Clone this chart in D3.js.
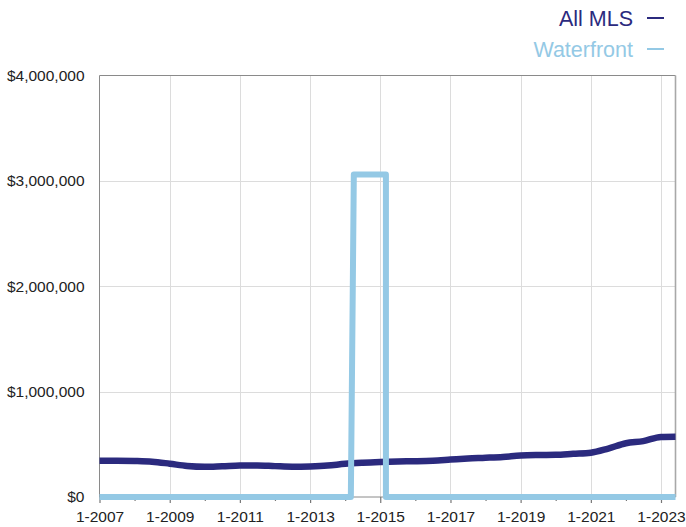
<!DOCTYPE html>
<html>
<head>
<meta charset="utf-8">
<script src="https://cdn.jsdelivr.net/npm/d3@7"></script>
<style>
  html, body { margin: 0; padding: 0; background: #fff; }
  svg { display: block; font-family: "Liberation Sans", Arial, Helvetica, sans-serif; }
</style>
</head>
<body>
<svg id="chart" width="686" height="527"></svg>
<script>
// ---- data ----
const seriesNames = ["All MLS", "Waterfront"];
const allMlsDates = ["2007-01","2007-07","2008-01","2008-07","2009-01","2009-07","2010-01","2010-07",
  "2011-01","2011-07","2012-01","2012-07","2013-01","2013-07","2014-01","2014-07","2015-01","2015-07",
  "2016-01","2016-07","2017-01","2017-07","2018-01","2018-07","2019-01","2019-07","2020-01","2020-07",
  "2021-01","2021-07","2022-01","2022-07","2023-01","2023-06"];
const allMlsValues = [345000,345000,342000,335000,316000,295000,287000,292000,
  298000,300000,293000,287000,290000,298000,315000,325000,332000,337000,
  340000,345000,355000,365000,372000,380000,393000,398000,400000,410000,
  420000,460000,510000,530000,570000,572000];
const waterfrontDates = ["2007-01","2014-03","2014-04","2015-03","2015-03","2023-06"];
const waterfrontValues = [0,0,3060000,3060000,0,0];
const yTicks = [0,1000000,2000000,3000000,4000000];
const xTickLabels = ["1-2007","1-2009","1-2011","1-2013","1-2015","1-2017","1-2019","1-2021","1-2023"];

(function () {
// ---- layout ----
const svg = d3.select("#chart");
const pl = 99.5, pr = 675.5, pt = 75.5, pb = 497;
const parse = d3.timeParse("%Y-%m");
const x = d3.scaleTime().domain([parse("2007-01"), parse("2023-06")]).range([pl, pr]);
const y = d3.scaleLinear().domain([0, 4000000]).range([pb, pt]);

const navy = "#2b2a7e", light = "#94c9e5";

// gridlines
const majorYears = xTickLabels.map(s => new Date(+s.split("-")[1], 0, 1));
const minorYears = d3.range(2008, 2024, 2).map(yr => new Date(yr, 0, 1));
svg.append("g").selectAll("line").data(majorYears.slice(1)).join("line")
  .attr("x1", d => Math.round(x(d)) + 0.5).attr("x2", d => Math.round(x(d)) + 0.5)
  .attr("y1", pt).attr("y2", pb)
  .attr("stroke", "#dcdcdc").attr("stroke-width", 1);
svg.append("g").selectAll("line").data(yTicks.slice(1, -1)).join("line")
  .attr("x1", pl).attr("x2", pr)
  .attr("y1", d => Math.round(y(d)) + 0.5).attr("y2", d => Math.round(y(d)) + 0.5)
  .attr("stroke", "#dcdcdc").attr("stroke-width", 1);

// frame
svg.append("line").attr("x1", pl).attr("x2", pr).attr("y1", pt).attr("y2", pt)
  .attr("stroke", "#8a8a8a").attr("stroke-width", 1);
svg.append("line").attr("x1", pl).attr("x2", pl).attr("y1", pt).attr("y2", pb)
  .attr("stroke", "#8a8a8a").attr("stroke-width", 1);
svg.append("line").attr("x1", pr).attr("x2", pr).attr("y1", pt).attr("y2", pb)
  .attr("stroke", "#a8a8a8").attr("stroke-width", 1.6);
svg.append("line").attr("x1", pl).attr("x2", pr).attr("y1", pb).attr("y2", pb)
  .attr("stroke", "#8a8a8a").attr("stroke-width", 1);

// x axis ticks
const xAxis = d3.axisBottom(x).tickValues(majorYears).tickSize(6).tickFormat((d, i) => xTickLabels[i]);
const gx = svg.append("g").attr("transform", `translate(0,${pb})`).call(xAxis);
gx.select(".domain").remove();
gx.selectAll(".tick line").attr("stroke", "#777").attr("stroke-width", 1.2);
gx.selectAll(".tick text").attr("fill", "#222").attr("font-size", "15.5px").attr("dy", null).attr("y", 25);
const gxm = svg.append("g").attr("transform", `translate(0,${pb})`)
  .call(d3.axisBottom(x).tickValues(minorYears).tickSize(4).tickFormat(""));
gxm.select(".domain").remove();
gxm.selectAll(".tick line").attr("stroke", "#777").attr("stroke-width", 1.2);

// y axis labels
const gy = svg.append("g").attr("transform", `translate(${pl},0)`)
  .call(d3.axisLeft(y).tickValues(yTicks).tickSize(0).tickPadding(15).tickFormat(d => "$" + d3.format(",")(d)));
gy.select(".domain").remove();
gy.selectAll(".tick text").attr("fill", "#222").attr("font-size", "15.5px");

// lines
const lineGen = d3.line().x(d => x(d.date)).y(d => y(d.value)).curve(d3.curveMonotoneX);
const allMls = allMlsDates.map((d, i) => ({ date: parse(d), value: allMlsValues[i] }));
const waterfront = waterfrontDates.map((d, i) => ({ date: parse(d), value: waterfrontValues[i] }));

svg.append("path").datum(allMls).attr("d", lineGen)
  .attr("fill", "none").attr("stroke", navy).attr("stroke-width", 6.5)
  .attr("stroke-linejoin", "round").attr("stroke-linecap", "butt");
svg.append("path").datum(waterfront).attr("d", d3.line().x(d => x(d.date)).y(d => y(d.value)))
  .attr("fill", "none").attr("stroke", light).attr("stroke-width", 6)
  .attr("stroke-linejoin", "round").attr("stroke-linecap", "butt");

// legend
const legend = svg.append("g");
[navy, light].forEach((c, i) => {
  const yy = 26 + i * 31;
  legend.append("text").attr("x", 633).attr("y", yy).attr("text-anchor", "end")
    .attr("fill", c).attr("font-size", "21.5px").text(seriesNames[i]);
  legend.append("line").attr("x1", 647).attr("x2", 664).attr("y1", yy - 8).attr("y2", yy - 8)
    .attr("stroke", c).attr("stroke-width", 2);
});
})();
</script>
</body>
</html>
